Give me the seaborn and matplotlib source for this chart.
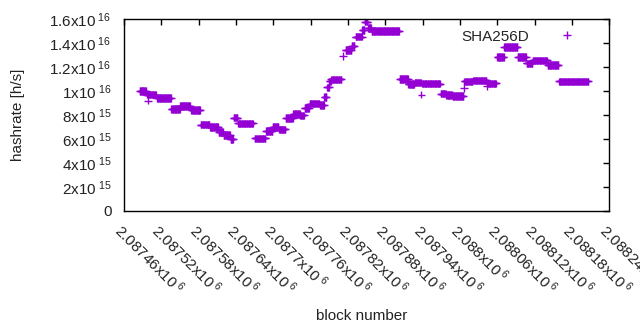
import numpy as np
import pandas as pd
import matplotlib
matplotlib.use('Agg')
import matplotlib.pyplot as plt
import seaborn as sns
from matplotlib.ticker import FuncFormatter

# plateaus: first block, end block (exclusive), hashrate in 1e15 h/s
seg_start = [2087485, 2087498, 2087497, 2087513, 2087536, 2087550, 2087568, 2087583,
             2087598, 2087612, 2087620, 2087631, 2087636, 2087643, 2087670, 2087688,
             2087699, 2087709, 2087720, 2087732, 2087743, 2087750, 2087758, 2087775,
             2087782, 2087786, 2087790, 2087793, 2087812, 2087816, 2087826, 2087832,
             2087843, 2087847, 2087852, 2087858, 2087903, 2087917, 2087927, 2087938,
             2087939, 2087969, 2087978, 2087988, 2088006, 2088007, 2088021, 2088043,
             2088044, 2088060, 2088071, 2088093, 2088107, 2088117, 2088141, 2088159]
seg_end = [2087496, 2087499, 2087512, 2087536, 2087550, 2087567, 2087583, 2087598,
           2087612, 2087620, 2087631, 2087636, 2087643, 2087668, 2087688, 2087699,
           2087709, 2087720, 2087732, 2087743, 2087750, 2087758, 2087775, 2087782,
           2087786, 2087790, 2087793, 2087810, 2087813, 2087826, 2087831, 2087843,
           2087847, 2087852, 2087858, 2087903, 2087917, 2087927, 2087938, 2087939,
           2087969, 2087978, 2087988, 2088006, 2088007, 2088021, 2088043, 2088044,
           2088059, 2088071, 2088093, 2088107, 2088117, 2088141, 2088159, 2088207]
seg_rate = [10.0, 9.2, 9.7, 9.4, 8.5, 8.74, 8.4, 7.2,
            7.0, 6.6, 6.35, 6.0, 7.78, 7.3, 6.05, 6.67,
            7.0, 6.8, 7.76, 8.1, 7.96, 8.6, 8.96, 8.86,
            9.5, 10.3, 10.8, 10.97, 12.9, 13.4, 13.8, 14.55,
            15.1, 15.8, 15.25, 15.0, 11.0, 10.58, 10.7, 9.7,
            10.62, 9.78, 9.66, 9.57, 10.27, 10.8, 10.88, 10.4,
            10.63, 12.85, 13.7, 12.85, 12.3, 12.55, 12.16, 10.8]

x_ticks = [2087460 + 60 * i for i in range(14)]
y_ticks = [0, 2e15, 4e15, 6e15, 8e15, 1e16, 1.2e16, 1.4e16, 1.6e16]

blocks = np.concatenate([np.arange(s, e) for s, e in zip(seg_start, seg_end)])
rates = np.concatenate([np.full(e - s, r * 1e15) for s, e, r in zip(seg_start, seg_end, seg_rate)])
df = pd.DataFrame({'block': blocks, 'hashrate': rates, 'algo': 'SHA256D'})

sns.set_style('white')
plt.rcParams['font.family'] = ['Liberation Sans', 'DejaVu Sans']
plt.rcParams['font.size'] = 11
plt.rcParams['mathtext.fontset'] = 'custom'
plt.rcParams['mathtext.rm'] = 'Liberation Sans'
plt.rcParams['mathtext.it'] = 'Liberation Sans'

fig = plt.figure(figsize=(6.4, 3.3), dpi=100)
ax = fig.add_axes([0.194, 0.361, 0.758, 0.581])

sns.scatterplot(data=df, x='block', y='hashrate', hue='algo', palette=['#9400d3'],
                marker='+', s=30, linewidth=1.0, ax=ax)


def sci_fmt(v, pos):
    if v == 0:
        return '0'
    e = int(np.floor(np.log10(abs(v)) + 1e-9))
    m = v / 10 ** e
    ms = ('%.5f' % m).rstrip('0').rstrip('.')
    return ms + 'x10$^{\\ ' + str(e) + '}$'


ax.set_xlim(2087460, 2088240)
ax.set_ylim(0, 1.6e16)
ax.set_xticks(x_ticks)
ax.set_yticks(y_ticks)
ax.xaxis.set_major_formatter(FuncFormatter(sci_fmt))
ax.yaxis.set_major_formatter(FuncFormatter(sci_fmt))
ax.tick_params(direction='in', length=4, width=1, top=True, right=True,
               labelsize=11, colors='black', labelcolor='#222222')
ax.tick_params(axis='y', pad=9)
ax.tick_params(axis='x', pad=7)
for lab in ax.get_xticklabels():
    lab.set_rotation(-45)
    lab.set_ha('left')
    lab.set_va('top')
    lab.set_rotation_mode('anchor')
for sp in ax.spines.values():
    sp.set_color('black')
    sp.set_linewidth(1)

ax.set_xlabel('block number', fontsize=11, color='#222222')
ax.set_ylabel('hashrate [h/s]', fontsize=11, color='#222222')
ax.xaxis.set_label_coords(0.49, -0.51)
ax.yaxis.set_label_coords(-0.205, 0.5)

ax.legend(loc='upper right', bbox_to_anchor=(0.967, 1.0), frameon=False, markerfirst=False,
          handletextpad=1.5, fontsize=11, borderaxespad=0.3)

fig.savefig('out.png', dpi=100)
